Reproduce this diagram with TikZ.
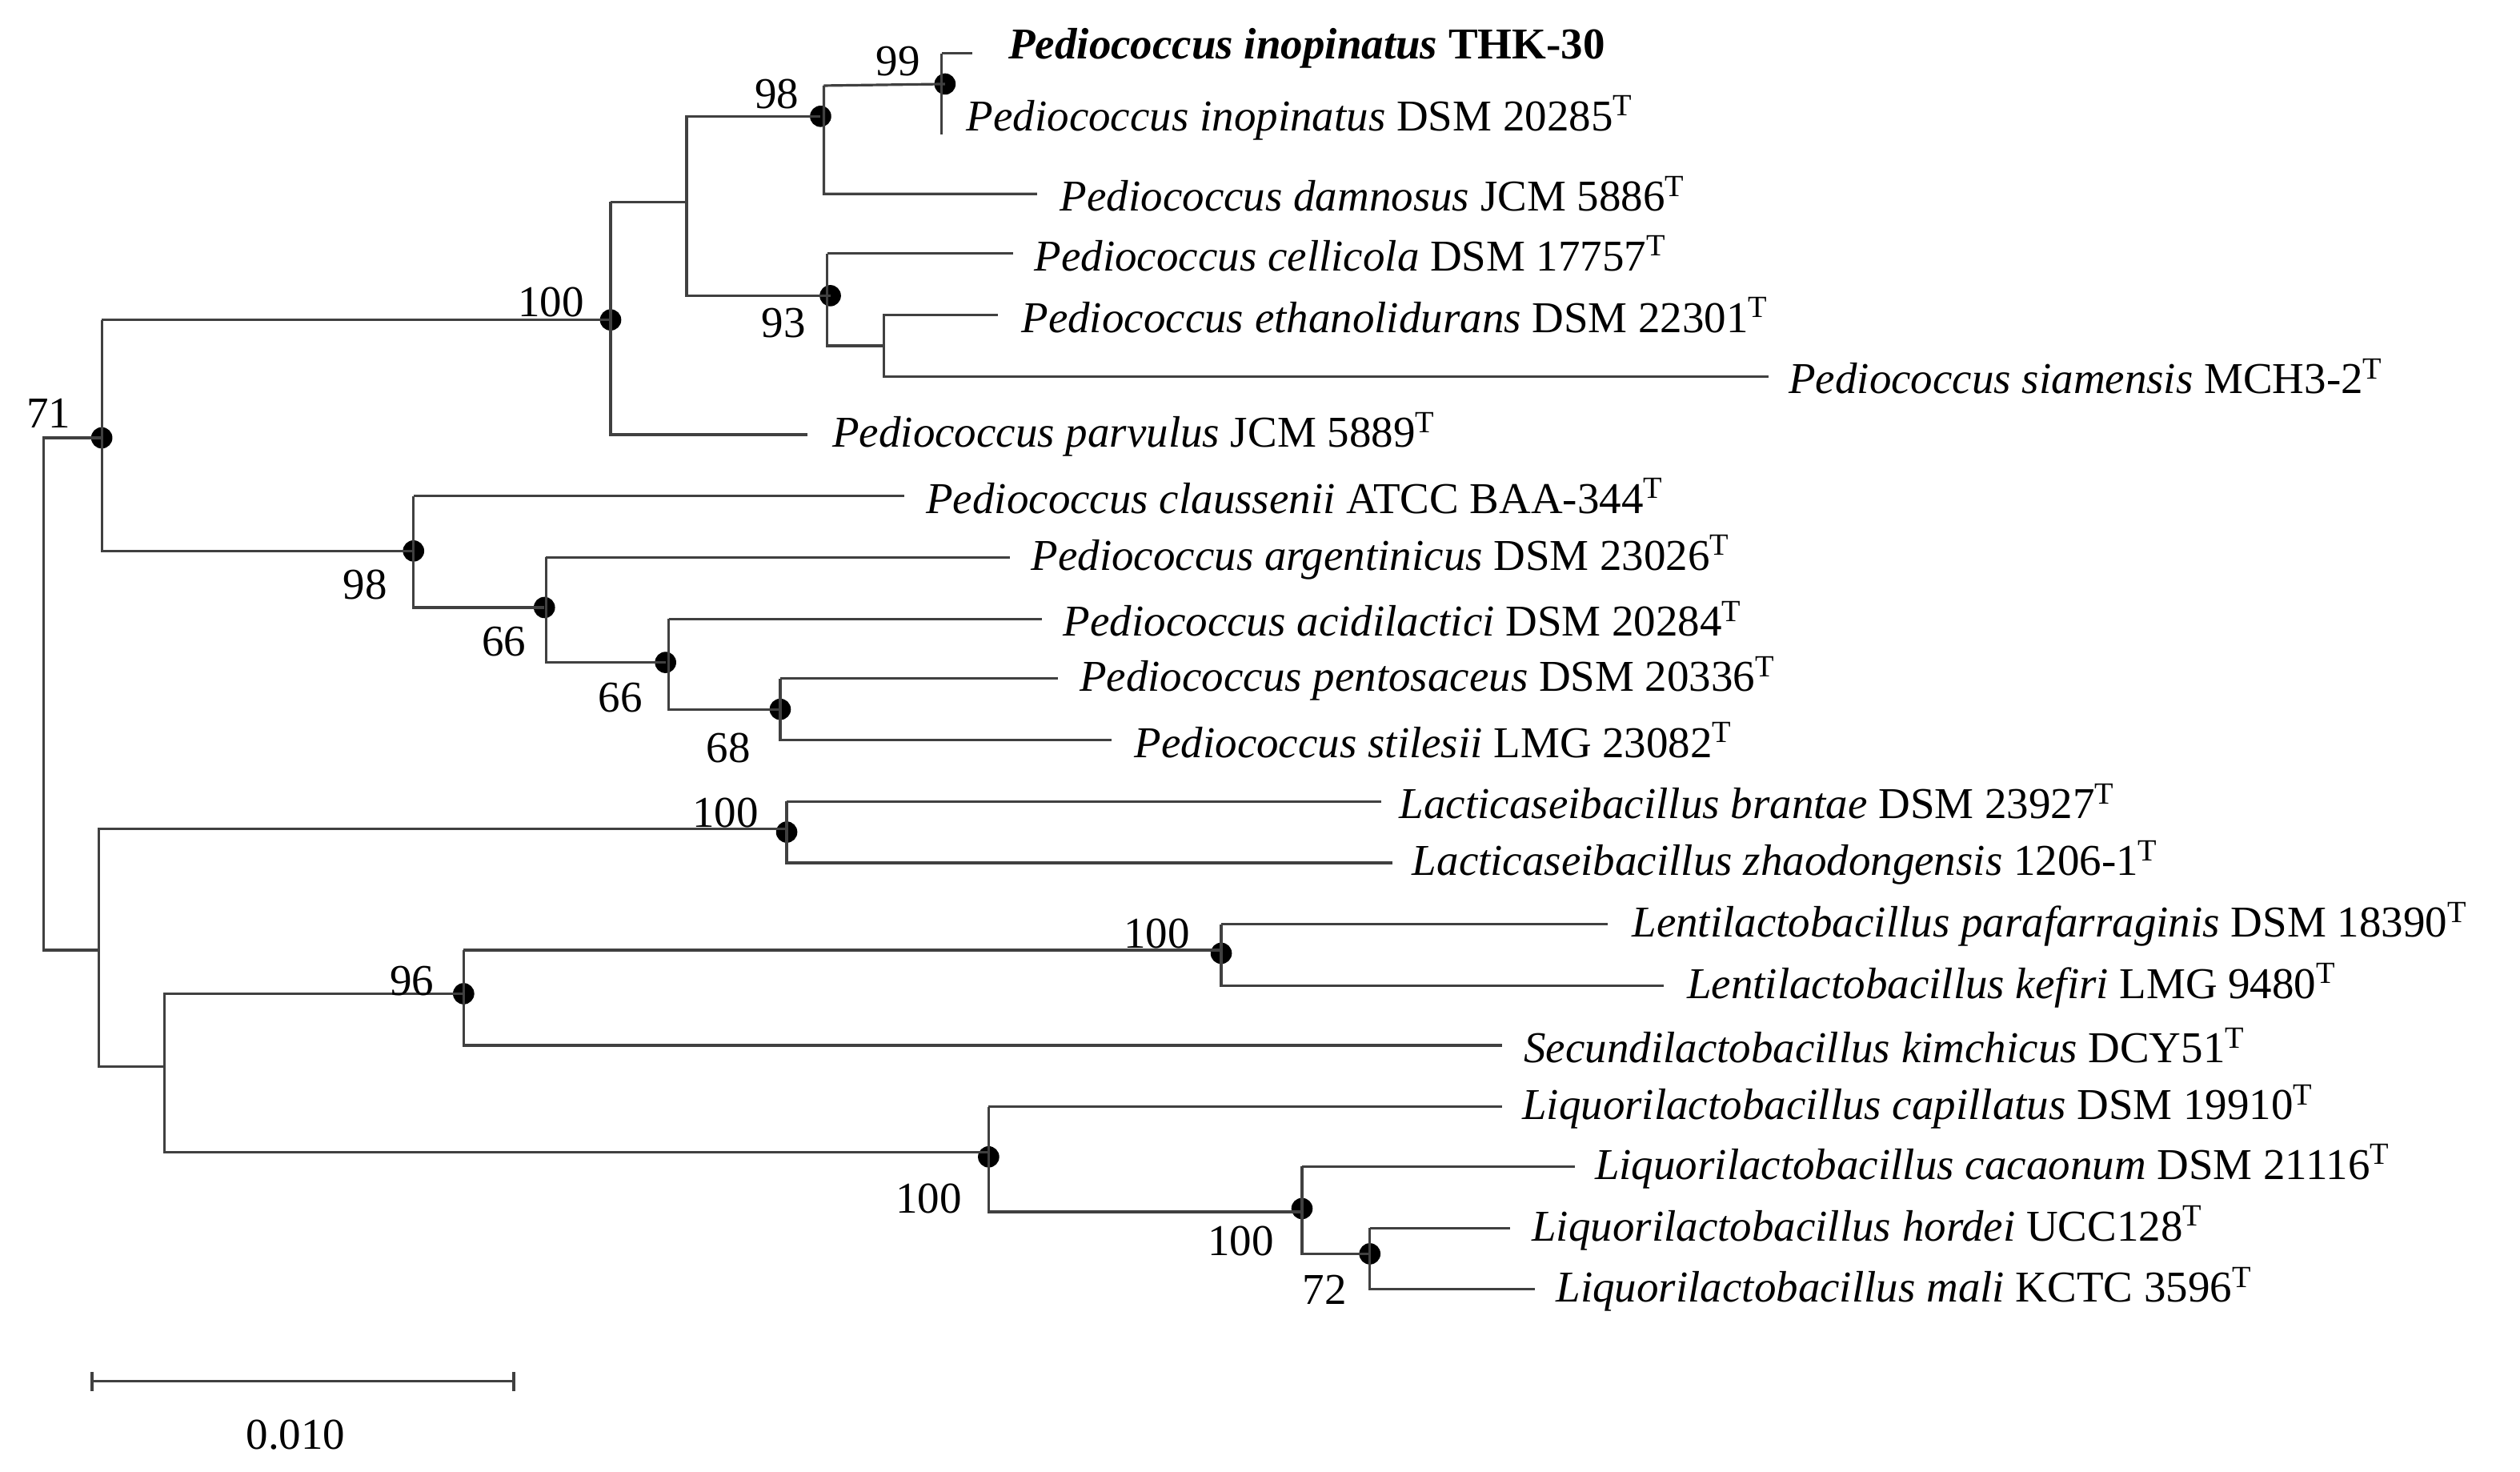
\documentclass[tikz,border=0pt]{standalone}
\usepackage{fontspec}
\setmainfont{Liberation Serif}
\newcommand\fs{\fontsize{15.5}{18}\selectfont}
\begin{document}
\begin{tikzpicture}[x=0.02cm,y=-0.02cm,
 br/.style={draw=black!75,line width=0.9pt},
 dot/.style={circle,fill=black,inner sep=0,minimum size=7.5pt},
 lab/.style={anchor=west,font=\fs,inner sep=0},
 bs/.style={font=\fs,inner sep=0}]
\useasboundingbox (0,0) rectangle (1560,911);
% internal nodes
\coordinate (R) at (27,430);
\node[dot] (n71) at (63,271) {};
\node[dot] (n100a) at (378,198) {};
\coordinate (nA) at (425,125);
\node[dot] (n98a) at (508,72) {};
\node[dot] (n99) at (585,52) {};
\node[dot] (n93) at (514,183) {};
\coordinate (nE) at (547,214);
\node[dot] (n98b) at (256,341) {};
\node[dot] (n66a) at (337,376) {};
\node[dot] (n66b) at (412,410) {};
\node[dot] (n68) at (483,439) {};
\coordinate (nB) at (61,588);
\node[dot] (n100b) at (487,515) {};
\coordinate (nC) at (102,660);
\node[dot] (n96) at (287,615) {};
\node[dot] (n100c) at (756,590) {};
\node[dot] (n100d) at (612,716) {};
\node[dot] (n100e) at (806,748) {};
\node[dot] (n72) at (848,776) {};
% leaves
\node[lab] (l1) at (624,30) {\textbf{\textit{Pediococcus inopinatus} THK-30}};
\node[lab] (l2) at (598,73) {\textit{Pediococcus inopinatus} DSM 20285\textsuperscript{T}};
\node[lab] (l3) at (656,120) {\textit{Pediococcus damnosus} JCM 5886\textsuperscript{T}};
\node[lab] (l4) at (640,157) {\textit{Pediococcus cellicola} DSM 17757\textsuperscript{T}};
\node[lab] (l5) at (632,195) {\textit{Pediococcus ethanolidurans} DSM 22301\textsuperscript{T}};
\node[lab] (l6) at (1107,233) {\textit{Pediococcus siamensis} MCH3-2\textsuperscript{T}};
\node[lab] (l7) at (515,269) {\textit{Pediococcus parvulus} JCM 5889\textsuperscript{T}};
\node[lab] (l8) at (573,307) {\textit{Pediococcus claussenii} ATCC BAA-344\textsuperscript{T}};
\node[lab] (l9) at (638,345) {\textit{Pediococcus argentinicus} DSM 23026\textsuperscript{T}};
\node[lab] (l10) at (658,383) {\textit{Pediococcus acidilactici} DSM 20284\textsuperscript{T}};
\node[lab] (l11) at (668,420) {\textit{Pediococcus pentosaceus} DSM 20336\textsuperscript{T}};
\node[lab] (l12) at (702,458) {\textit{Pediococcus stilesii} LMG 23082\textsuperscript{T}};
\node[lab] (l13) at (866,496) {\textit{Lacticaseibacillus brantae} DSM 23927\textsuperscript{T}};
\node[lab] (l14) at (874,534) {\textit{Lacticaseibacillus zhaodongensis} 1206-1\textsuperscript{T}};
\node[lab] (l15) at (1010,572) {\textit{Lentilactobacillus parafarraginis} DSM 18390\textsuperscript{T}};
\node[lab] (l16) at (1044,610) {\textit{Lentilactobacillus kefiri} LMG 9480\textsuperscript{T}};
\node[lab] (l17) at (943,647) {\textit{Secundilactobacillus kimchicus} DCY51\textsuperscript{T}};
\node[lab] (l18) at (942,685) {\textit{Liquorilactobacillus capillatus} DSM 19910\textsuperscript{T}};
\node[lab] (l19) at (987,722) {\textit{Liquorilactobacillus cacaonum} DSM 21116\textsuperscript{T}};
\node[lab] (l20) at (948,760) {\textit{Liquorilactobacillus hordei} UCC128\textsuperscript{T}};
\node[lab] (l21) at (963,798) {\textit{Liquorilactobacillus mali} KCTC 3596\textsuperscript{T}};
% branches
\draw[br] (n71) |- (27,271) -- (27,588) -- (nB);
\draw[br] (63,198) -- (n100a.center) (63,198) -- (63,341) -- (n98b.center);
\draw[br] (378,125) -- (378,269) -- (500,269);
\draw[br] (378,125) -- (nA) -- (425,72) -- (n98a.center);
\draw[br] (nA) -- (425,183) -- (n93.center);
\draw[br] (510,53) -- (n99.center) (510,53) -- (510,120) -- (642,120);
\draw[br] (583,33) -- (583,83) (583,33) -- (602,33);
\draw[br] (512,157) -- (512,214) -- (nE) (512,157) -- (627,157);
\draw[br] (nE) -- (547,195) -- (618,195) (nE) -- (547,233) -- (1095,233);
\draw[br] (256,307) -- (256,376) -- (n66a.center) (256,307) -- (560,307);
\draw[br] (338,345) -- (338,410) -- (n66b.center) (338,345) -- (625,345);
\draw[br] (414,383) -- (414,439) -- (n68.center) (414,383) -- (645,383);
\draw[br] (483,420) -- (483,458) -- (688,458) (483,420) -- (655,420);
\draw[br] (nB) -- (61,513) -- (487,513) (nB) -- (61,660) -- (nC);
\draw[br] (487,496) -- (487,534) -- (862,534) (487,496) -- (855,496);
\draw[br] (nC) -- (102,615) -- (n96.center) (nC) -- (102,713) -- (612,713);
\draw[br] (287,588) -- (287,647) -- (930,647) (287,588) -- (756,588);
\draw[br] (756,572) -- (756,610) -- (1030,610) (756,572) -- (995,572);
\draw[br] (612,685) -- (612,750) -- (806,750) (612,685) -- (930,685);
\draw[br] (806,722) -- (806,776) -- (n72.center) (806,722) -- (975,722);
\draw[br] (848,760) -- (848,798) -- (950,798) (848,760) -- (935,760);
% bootstrap values
\node[bs] at (556,38) {99};
\node[bs] at (481,58) {98};
\node[bs] at (341,187) {100};
\node[bs] at (485,200) {93};
\node[bs] at (30,256) {71};
\node[bs] at (226,362) {98};
\node[bs] at (312,397) {66};
\node[bs] at (384,432) {66};
\node[bs] at (451,463) {68};
\node[bs] at (449,503) {100};
\node[bs] at (255,607) {96};
\node[bs] at (716,578) {100};
\node[bs] at (575,742) {100};
\node[bs] at (768,768) {100};
\node[bs] at (820,798) {72};
% scale bar
\coordinate (s1) at (57,855);
\coordinate (s2) at (318,855);
\draw[br] (s1) -- (s2) (57,849) -- (57,861) (318,849) -- (318,861);
\node[bs] (sc) at (183,888) {0.010};
\end{tikzpicture}
\end{document}
